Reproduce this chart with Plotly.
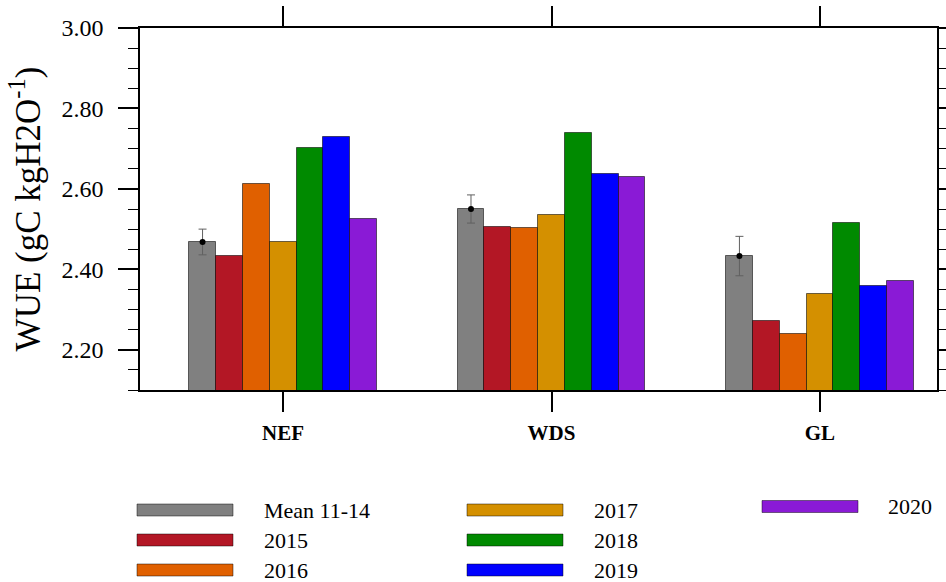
import plotly.graph_objects as go

categories = ["NEF", "WDS", "GL"]
series_names = ["Mean 11-14", "2015", "2016", "2017", "2018", "2019", "2020"]
series_colors = ["#808080", "#B31725", "#E06000", "#D49000", "#008A00", "#0000FF", "#8A1AD6"]
values = {
    "Mean 11-14": [2.468, 2.550, 2.433],
    "2015": [2.434, 2.506, 2.272],
    "2016": [2.611, 2.504, 2.240],
    "2017": [2.468, 2.535, 2.338],
    "2018": [2.701, 2.739, 2.514],
    "2019": [2.728, 2.637, 2.359],
    "2020": [2.524, 2.629, 2.372],
}
mean_err = [0.032, 0.035, 0.049]
y_ticks = [2.20, 2.40, 2.60, 2.80, 3.00]

# plot-area geometry (pixels)
L, R, T, B = 140, 937, 28, 390
W, H = 946, 582


def px_x(p):
    return (p - L) / (R - L)


def px_y(p):
    return (B - p) / (B - T)


bar_w = 0.1
n = len(series_names)
fig = go.Figure()
for i, name in enumerate(series_names):
    xs = [k + (i - (n - 1) / 2) * bar_w for k in range(len(categories))]
    kw = {}
    if i == 0:
        kw["error_y"] = dict(type="data", array=mean_err, visible=True,
                             color="#606060", thickness=1, width=4)
    fig.add_trace(go.Bar(
        x=xs, y=values[name], width=bar_w, name=name,
        marker=dict(color=series_colors[i], line=dict(color="rgba(0,0,0,0.55)", width=1)),
        showlegend=False, **kw))
    if i == 0:
        fig.add_trace(go.Scatter(
            x=xs, y=values[name], mode="markers",
            marker=dict(color="black", size=6), showlegend=False))

# manual legend (3 columns), pixel layout
box_x = [137, 467, 762]
text_x = [262, 592, 886]
row_y = [510, 540, 570]
positions = [(0, 0), (0, 1), (0, 2), (1, 0), (1, 1), (1, 2), (2, None)]
for (c, r), name, color in zip(positions, series_names, series_colors):
    yc = row_y[r] if r is not None else 506.5
    fig.add_shape(type="rect", xref="paper", yref="paper",
                  x0=px_x(box_x[c]), x1=px_x(box_x[c] + 96),
                  y0=px_y(yc + 6), y1=px_y(yc - 6),
                  fillcolor=color, line=dict(color="rgba(0,0,0,0.45)", width=1))
    fig.add_annotation(xref="paper", yref="paper", x=px_x(text_x[c]), y=px_y(yc),
                       text=name, showarrow=False, xanchor="left", yanchor="middle",
                       font=dict(family="Liberation Serif", size=22, color="black"))

fig.update_layout(
    width=W, height=H,
    margin=dict(l=L, r=W - R, t=T, b=H - B, autoexpand=False),
    paper_bgcolor="white", plot_bgcolor="white",
    font=dict(family="Liberation Serif", color="black"),
    bargap=0,
)
fig.update_xaxes(
    range=[-0.533, 2.436], tickvals=list(range(len(categories))), ticktext=categories,
    showline=True, linecolor="black", linewidth=1.5, mirror="allticks",
    ticks="outside", ticklen=20, tickwidth=1.5, tickcolor="black",
    ticklabelstandoff=3, showgrid=False, zeroline=False, automargin=False,
    tickfont=dict(family="Liberation Serif", size=21, color="black", weight="bold"),
)
fig.update_yaxes(
    range=[2.10, 3.00], tickvals=y_ticks, tickformat=".2f",
    showline=True, linecolor="black", linewidth=1.5, mirror="allticks",
    ticks="outside", ticklen=20, tickwidth=1.5, tickcolor="black",
    minor=dict(dtick=0.05, tick0=2.0, ticks="outside", ticklen=10, tickwidth=1, tickcolor="black"),
    ticklabelstandoff=10, showgrid=False, zeroline=False, automargin=False,
    tickfont=dict(family="Liberation Serif", size=24, color="black"),
    title=dict(text="WUE (gC kgH2O<sup>-1</sup>)", standoff=10,
               font=dict(family="Liberation Serif", size=35, color="black")),
)
fig.write_html("out.html", config={"displayModeBar": False},
               post_script="document.body.style.margin='0';document.body.style.overflow='hidden';")
